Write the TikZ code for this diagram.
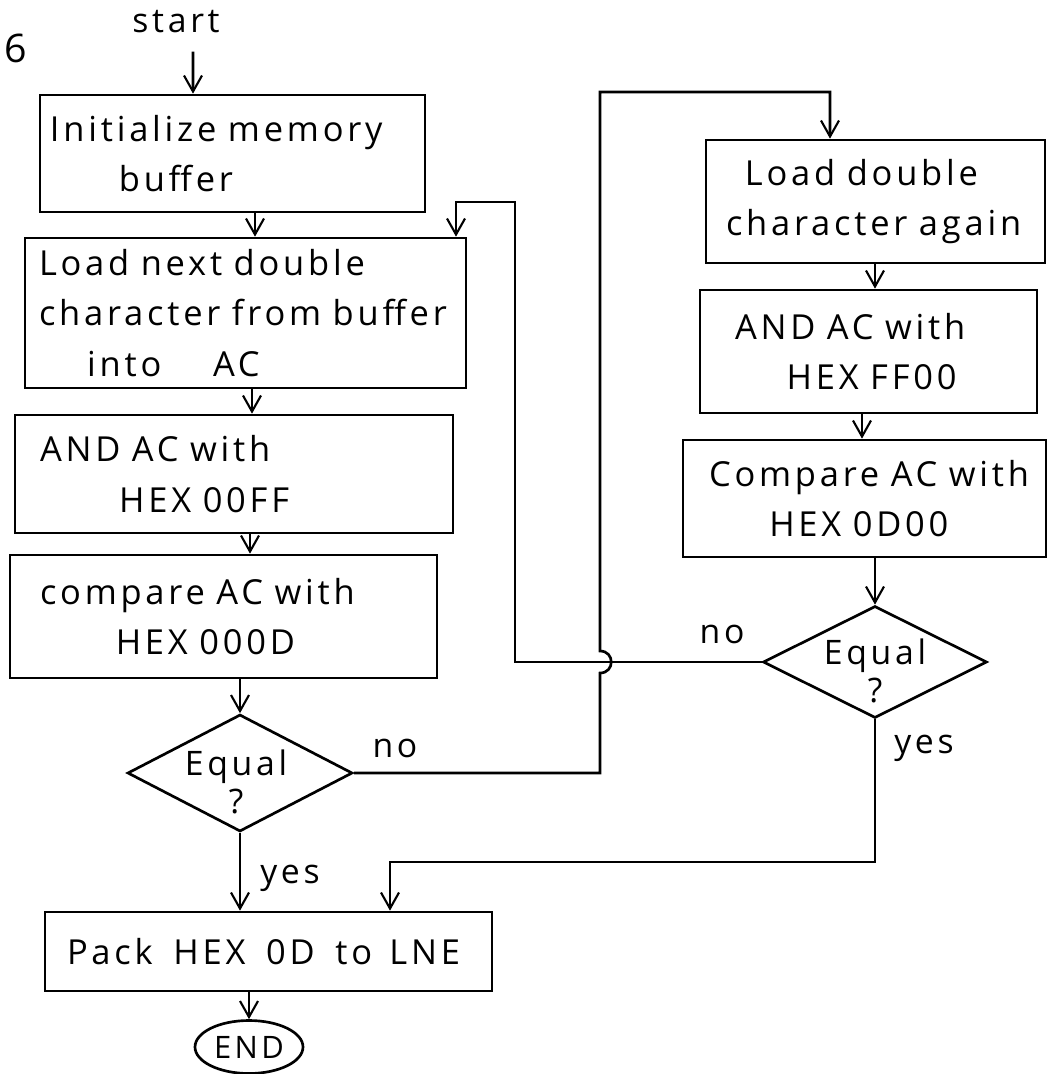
\documentclass[tikz,border=0pt]{standalone}
\usepackage{fontspec}
\setmainfont{Open Sans}
\newfontfamily\hand[LetterSpace=11]{Open Sans}
\newcommand\handfont[2]{\hand\fontsize{#1}{#2}\selectfont\spaceskip=0.5em plus 0.1em\relax}
\usetikzlibrary{shapes.geometric,arrows.meta}
\begin{document}
\begin{tikzpicture}[x=0.025cm,y=-0.025cm,
  box/.style n args={3}{draw, line width=1.9pt, rectangle, align=left,
    font=\handfont{24.5}{36}, inner ysep=0pt, inner xsep=#3*0.025cm,
    text width=(#1-2*#3)*0.025cm,
    minimum width=#1*0.025cm, minimum height=#2*0.025cm},
  dec/.style 2 args={draw, line width=1.9pt, diamond, inner sep=0pt,
    minimum width=#1*0.025cm, minimum height=#2*0.025cm},
  dtext/.style={align=center, font=\handfont{24}{27}, inner sep=0pt},
  term/.style={draw, line width=1.9pt, ellipse, inner sep=0pt,
    font=\handfont{22}{26},
    minimum width=108*0.025cm, minimum height=53*0.025cm},
  arr/.style={line width=1.9pt, -{Straight Barb[length=4mm,width=4.5mm,line width=1.5pt]}},
  lbl/.style={font=\handfont{24}{28}, inner sep=0pt}]
\useasboundingbox (0,0) rectangle (1048,1074);

% page mark and start
\node[font=\hand\fontsize{28}{28}\selectfont, inner sep=0pt] (six) at (16,48) {6};
\node[lbl] (start) at (176,22) {start};

% left column
\node[box={385}{117}{10}] (b1) at (232.5,153.5) {\mbox{Initialize memory}\\\hspace*{2em}buffer};
\node[box={441}{150}{14}] (b2) at (245.5,313) {Load next double\\\mbox{character from buffer}\\\hspace*{1.4em}into\hspace{1.5em}AC};
\node[box={438}{118}{25}] (b3) at (234,474) {AND AC with\\\hspace*{2.3em}HEX 00FF};
\node[box={427}{123}{30}] (b4) at (223.5,616.5) {compare AC with\\\hspace*{2.2em}HEX 000D};
\node[dec={225}{117}] (d1) at (240,773) {};
\node[dtext] (d1t) at (236,782) {Equal\\?};
\node[box={447}{79}{22}] (b8) at (268.5,951.5) {\mbox{Pack\hspace{0.6em}HEX\hspace{0.6em}0D\hspace{0.6em}to\hspace{0.5em}LNE}};
\node[term] (end) at (249,1047) {END};

% right column
\node[box={339}{123}{20}] (b5) at (875.5,201.5) {\hspace*{0.55em}Load double\\\mbox{character again}};
\node[box={337}{123}{35}] (b6) at (868.5,351.5) {AND AC with\\\hspace*{1.5em}HEX FF00};
\node[box={363}{117}{26}] (b7) at (864.5,498.5) {\mbox{Compare AC with}\\\hspace*{1.75em}HEX 0D00};
\node[dec={224}{112}] (d2) at (875,662) {};
\node[dtext] (d2t) at (875,671) {Equal\\?};

% labels
\node[lbl] (no1) at (395,748) {no};
\node[lbl] (yes1) at (290,878) {yes};
\node[lbl] (no2) at (722,634) {no};
\node[lbl] (yes2) at (924,748) {yes};

% connectors
\draw[arr] ([xshift=0.425cm,yshift=-0.45cm]start.south) -- (193,0 |- b1.north);
\draw[arr] (255,0 |- b1.south) -- (255,0 |- b2.north);
\draw[arr] (252,0 |- b2.south) -- (252,0 |- b3.north);
\draw[arr] (250,0 |- b3.south) -- (250,0 |- b4.north);
\draw[arr] (d1.north |- b4.south) -- (d1.north);
\draw[arr] (d1.south) -- (d1.south |- b8.north);
\draw[arr] (b8.south -| end.north) -- (end.north);
\draw[arr] (d1.east) -- (600,0 |- d1.east) -- (600,673)
   .. controls (615,673) and (615,651) .. (600,651) -- (600,92) -- (830,92) -- (830,0 |- b5.north);
\draw[arr] (875,0 |- b5.south) -- (875,0 |- b6.north);
\draw[arr] (862,0 |- b6.south) -- (862,0 |- b7.north);
\draw[arr] (d2.north |- b7.south) -- (d2.north);
\draw[arr] (d2.west) -- (515,0 |- d2.west) -- (515,202) -- (456,202) -- (456,0 |- b2.north);
\draw[arr] (d2.south) -- (d2.south |- 0,862) -- (390,862) -- (390,0 |- b8.north);
\end{tikzpicture}
\end{document}
